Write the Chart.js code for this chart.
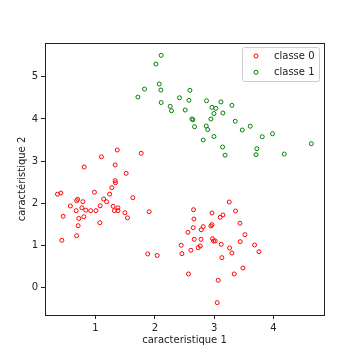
<!DOCTYPE html>
<html lang="fr">
<head>
  <meta charset="UTF-8">
  <title>classes</title>
  <script src="https://cdn.jsdelivr.net/npm/chart.js"></script>
  <style>
    body { margin: 0; background: #fff; }
  </style>
</head>
<body>
<canvas id="myChart" width="360" height="360"></canvas>
<script>
  // classe 0 (rouge)
  const classe0X = [1.366, 1.101, 1.770, 1.332, 0.810, 1.517, 1.332, 1.337, 1.276, 0.983,
    1.239, 0.360, 0.417, 1.630, 1.138, 1.189, 0.700, 0.683, 0.788, 0.577,
    1.079, 1.298, 1.378, 0.771, 0.675, 0.838, 0.919, 1.008, 1.319, 1.379,
    1.496, 1.905, 0.456, 0.804, 0.720, 1.539, 1.074, 0.708, 0.683, 0.434,
    1.880, 2.040, 3.253, 2.652, 2.962, 3.360, 3.147, 3.102, 2.659, 3.434,
    2.962, 2.945, 2.815, 2.782, 2.647, 2.557, 3.518, 2.664, 2.777, 2.972,
    2.989, 3.018, 3.439, 3.119, 2.444, 2.765, 2.731, 3.680, 2.608, 3.259,
    2.456, 3.299, 3.754, 3.130, 3.484, 2.567, 3.338, 3.068, 3.051];
  const classe0Y = [3.263, 3.102, 3.185, 2.908, 2.860, 2.711, 2.536, 2.488, 2.370, 2.263,
    2.216, 2.216, 2.244, 2.133, 2.102, 2.038, 2.095, 2.062, 2.038, 1.936,
    1.941, 1.929, 1.893, 1.893, 1.825, 1.836, 1.825, 1.825, 1.825, 1.825,
    1.777, 1.801, 1.692, 1.682, 1.640, 1.656, 1.540, 1.469, 1.232, 1.123,
    0.799, 0.763, 2.031, 1.848, 1.770, 1.818, 1.723, 1.668, 1.628, 1.526,
    1.493, 1.462, 1.445, 1.374, 1.422, 1.313, 1.256, 1.147, 1.147, 1.161,
    1.107, 1.107, 1.090, 1.028, 1.005, 0.988, 0.948, 1.012, 0.886, 0.941,
    0.806, 0.822, 0.853, 0.711, 0.467, 0.325, 0.325, 0.175, -0.355];

  // classe 1 (vert)
  const classe1X = [2.107, 2.018, 2.074, 1.826, 2.102, 2.591, 1.715, 2.416, 2.574, 2.871,
    3.114, 2.107, 3.299, 2.259, 2.962, 3.029, 2.281, 2.512, 2.996, 3.147,
    2.625, 2.642, 2.945, 3.355, 2.669, 2.866, 2.891, 3.473, 3.607, 2.996,
    3.810, 3.983, 4.636, 2.815, 3.141, 3.720, 3.183, 3.704, 4.181];
  const classe1Y = [5.507, 5.301, 4.827, 4.708, 4.685, 4.678, 4.519, 4.502, 4.441, 4.431,
    4.403, 4.389, 4.322, 4.299, 4.275, 4.251, 4.194, 4.211, 4.128, 4.140,
    3.998, 3.981, 3.998, 3.945, 3.815, 3.832, 3.749, 3.737, 3.827, 3.583,
    3.578, 3.649, 3.412, 3.500, 3.334, 3.294, 3.140, 3.152, 3.168];

  const xTicks = [1, 2, 3, 4];
  const yTicks = [0, 1, 2, 3, 4, 5];

  const axisColor = '#222';
  const fontFamily = '"DejaVu Sans", sans-serif';

  function toPoints(xs, ys) {
    return xs.map((x, i) => ({ x: x, y: ys[i] }));
  }

  // cadre autour de la zone du graphique
  const framePlugin = {
    id: 'frame',
    afterDatasetsDraw(chart) {
      const a = chart.chartArea;
      const ctx = chart.ctx;
      ctx.save();
      ctx.strokeStyle = axisColor;
      ctx.lineWidth = 1;
      ctx.strokeRect(Math.round(a.left) + 0.5, Math.round(a.top) + 0.5,
        Math.round(a.right - a.left), Math.round(a.bottom - a.top));
      ctx.restore();
    }
  };

  // légende en haut à droite, dans le cadre
  const legendPlugin = {
    id: 'legendBox',
    afterDraw(chart) {
      const ctx = chart.ctx;
      const a = chart.chartArea;
      const boxW = 77, boxH = 34;
      const x0 = a.right - 5 - boxW, y0 = a.top + 4;
      ctx.save();
      ctx.fillStyle = 'rgba(255,255,255,0.8)';
      ctx.strokeStyle = '#ccc';
      ctx.lineWidth = 1;
      ctx.beginPath();
      ctx.roundRect(x0 + 0.5, y0 + 0.5, boxW, boxH, 2);
      ctx.fill();
      ctx.stroke();
      ctx.font = '10px ' + fontFamily;
      ctx.textBaseline = 'middle';
      chart.data.datasets.forEach((ds, i) => {
        const cy = y0 + 9 + i * 16.3;
        ctx.beginPath();
        ctx.arc(x0 + 14, cy, 2, 0, Math.PI * 2);
        ctx.strokeStyle = ds.borderColor;
        ctx.stroke();
        ctx.fillStyle = axisColor;
        ctx.fillText(ds.label, x0 + 32, cy);
      });
      ctx.restore();
    }
  };

  const ctx = document.getElementById('myChart').getContext('2d');
  new Chart(ctx, {
    type: 'scatter',
    data: {
      datasets: [
        {
          label: 'classe 0',
          data: toPoints(classe0X, classe0Y),
          borderColor: '#ff0000',
          backgroundColor: 'rgba(0, 0, 0, 0)',
          pointRadius: 2,
          borderWidth: 1,
          order: 2
        },
        {
          label: 'classe 1',
          data: toPoints(classe1X, classe1Y),
          borderColor: '#008000',
          backgroundColor: 'rgba(0, 0, 0, 0)',
          pointRadius: 2,
          borderWidth: 1,
          order: 1
        }
      ]
    },
    options: {
      responsive: false,
      animation: false,
      layout: { padding: { top: 43, right: 36, left: 0, bottom: 0 } },
      plugins: {
        legend: { display: false },
        tooltip: { enabled: false }
      },
      scales: {
        x: {
          type: 'linear',
          min: 0.15,
          max: 4.85,
          afterBuildTicks: axis => { axis.ticks = xTicks.map(v => ({ value: v })); },
          afterFit: axis => { axis.height = 45; },
          border: { display: false },
          grid: { drawOnChartArea: false, drawTicks: true, tickLength: 4, color: axisColor },
          ticks: { color: axisColor, font: { family: fontFamily, size: 10 }, padding: 3, maxRotation: 0 },
          title: {
            display: true,
            text: 'caracteristique 1',
            color: axisColor,
            font: { family: fontFamily, size: 10 },
            padding: { top: 0, bottom: 14 }
          }
        },
        y: {
          type: 'linear',
          min: -0.648,
          max: 5.80,
          afterBuildTicks: axis => { axis.ticks = yTicks.map(v => ({ value: v })); },
          afterFit: axis => { axis.width = 45; },
          border: { display: false },
          grid: { drawOnChartArea: false, drawTicks: true, tickLength: 4, color: axisColor },
          ticks: { color: axisColor, font: { family: fontFamily, size: 10 }, padding: 3 },
          title: {
            display: true,
            text: 'caractéristique 2',
            color: axisColor,
            font: { family: fontFamily, size: 10 },
            padding: { top: 16, bottom: 0 }
          }
        }
      }
    },
    plugins: [framePlugin, legendPlugin]
  });
</script>
</body>
</html>
